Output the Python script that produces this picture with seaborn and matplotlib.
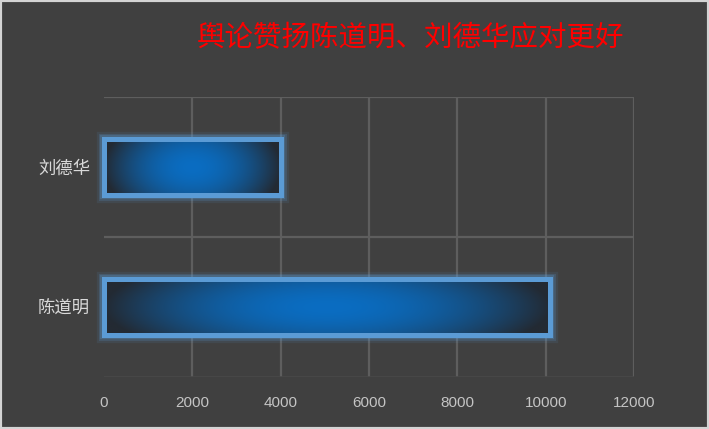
import numpy as np
import pandas as pd
import seaborn as sns
from matplotlib import pyplot as plt
from matplotlib.colors import to_rgb
from matplotlib.patches import Rectangle

names = ["刘德华", "陈道明"]
values = [4000, 10100]
xticks = [0, 2000, 4000, 6000, 8000, 10000, 12000]
title = "舆论赞扬陈道明、刘德华应对更好"

sns.set_theme(style="white")
plt.rcParams["font.family"] = ["Noto Sans CJK SC", "DejaVu Sans"]

bg = "#404040"
fig = plt.figure(figsize=(7.09, 4.29), dpi=100, facecolor=bg)
ax = fig.add_axes([104 / 709, 1 - 377 / 429, 530 / 709, 280 / 429])
ax.set_facecolor(bg)

df = pd.DataFrame({"name": names, "value": values})
sns.barplot(data=df, x="value", y="name", hue="name", orient="h", width=0.4,
            palette=["#0a6cc0"] * len(names), legend=False, ax=ax, zorder=3)

ax.set_xlim(0, 12000)
ax.set_ylim(len(names) - 0.5, -0.5)

# gridlines (no line at zero)
ax.vlines(xticks[1:], -0.5, len(names) - 0.5, color="#5e5e5e", lw=1.6, zorder=1)
ax.hlines([-0.5, 0.5], 0, 12000, color="#5e5e5e", lw=1.6, zorder=1)
ax.hlines([len(names) - 0.5], 0, 12000, color="#494949", lw=1.2, zorder=1)

# gradient fill + glowing edge for each bar
c_mid = np.array(to_rgb("#0a6dc2"))
c_end = np.array(to_rgb("#232a33"))
tx = np.linspace(-1, 1, 300)
ty = np.linspace(-1, 1, 60)
gx, gy = np.meshgrid(tx, ty)
d = np.clip(np.sqrt(gx ** 2 + 0.25 * gy ** 2), 0, 1) ** 1.9
grad = c_mid[None, None, :] * (1 - d[..., None]) + c_end[None, None, :] * d[..., None]

for p in list(ax.patches):
    x0, y0, w, h = p.get_x(), p.get_y(), p.get_width(), p.get_height()
    p.set_facecolor("none")
    p.set_edgecolor("none")
    ax.imshow(grad, extent=[x0, x0 + w, y0 + h, y0], aspect="auto", zorder=3,
              interpolation="bilinear")
    for lw, a in [(11, 0.10), (8, 0.18), (6, 0.25)]:
        ax.add_patch(Rectangle((x0, y0), w, h, fill=False, edgecolor="#5b9bd5",
                               lw=lw, alpha=a, zorder=2.5, clip_on=False))
    ax.add_patch(Rectangle((x0, y0), w, h, fill=False, edgecolor="#5b9bd5",
                           lw=3.6, zorder=4, clip_on=False))

ax.set_xlim(0, 12000)
ax.set_ylim(len(names) - 0.5, -0.5)
ax.set_xticks(xticks)
ax.set_xticklabels([str(t) for t in xticks], color="#c4c4c4", fontsize=11,
                   family=["Liberation Sans", "DejaVu Sans"])
ax.set_yticks(range(len(names)))
ax.set_yticklabels(names, color="#d9d9d9", fontsize=12.5)
ax.tick_params(axis="x", length=0, pad=14)
ax.tick_params(axis="y", length=0, pad=10)
ax.set_xlabel("")
ax.set_ylabel("")
for s in ax.spines.values():
    s.set_visible(False)

fig.text(411 / 709, 1 - 38 / 429, title, ha="center", va="center",
         color="#ff0000", fontsize=20.5)

fig.patches.append(Rectangle((0, 0), 1, 1, transform=fig.transFigure, fill=False,
                             edgecolor="#d4d4d4", lw=3, zorder=10))

fig.savefig("out.png", dpi=100, facecolor=bg)
